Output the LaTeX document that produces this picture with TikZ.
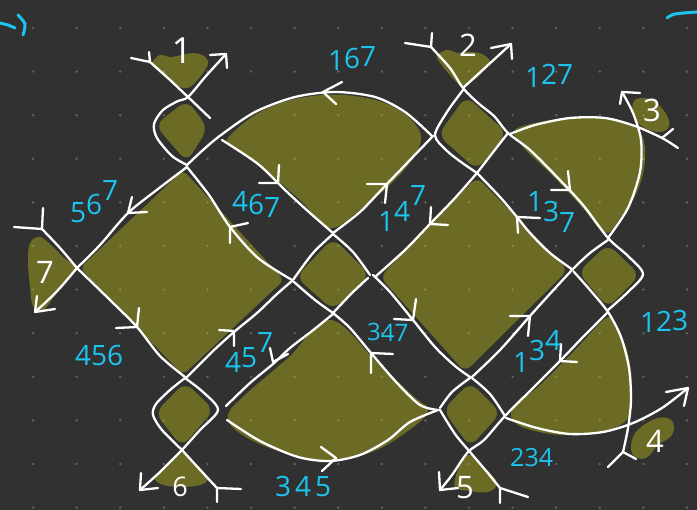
\documentclass[tikz,border=0pt]{standalone}
\usepackage{fontspec}
\setmainfont{Open Sans}
\definecolor{board}{RGB}{49,49,49}
\definecolor{dotgray}{RGB}{96,96,96}
\definecolor{olivepaint}{RGB}{203,203,22}
\definecolor{inkcyan}{RGB}{28,196,240}

\tikzset{
  ln/.style={draw=white, line width=2.3pt, line cap=round, line join=round},
  blob/.style={fill=olivepaint, fill opacity=0.38},
  lbl/.style={text=inkcyan, font=\fontsize{28}{28}\selectfont, inner sep=0pt, anchor=base west},
  tag/.style={text=white, font=\fontsize{31}{31}\selectfont, inner sep=0pt}
}
% arrow mark: tip, barb, barb
\newcommand\barb[3]{\draw[ln] (#2) -- (#1) -- (#3);}

\begin{document}
\begin{tikzpicture}[x=1pt, y=-1pt]

% -------- board --------
\fill[board] (0,0) rectangle (697,510);
\useasboundingbox (0,0) rectangle (697,510);
\foreach \i in {0,...,15}
  \foreach \j in {0,...,11}
    \fill[dotgray] ({33+43.6*\i},{28+43.6*\j}) circle (1.4);

% -------- painted regions --------
\fill[blob] plot[smooth cycle, tension=0.6] coordinates {(152,63) (160,55) (170,57) (182,55) (193,53) (204,56) (208,64) (200,77) (190,87) (180,87) (167,78) (156,69)};
\fill[blob, rounded corners=10pt] (187,100) -- (208,128) -- (187,162) -- (155,125) -- cycle;
\fill[blob, rounded corners=6pt] (80,268) -- (183,170) -- (284,280) -- (183,375) -- cycle;
\fill[blob] plot[smooth cycle, tension=0.6] coordinates {(228,138) (260,112) (300,98) (345,95) (390,105) (418,128) (418,150) (395,180) (362,208) (330,228) (300,200) (265,170) (235,148)};
\fill[blob, rounded corners=10pt] (333,238) -- (370,275) -- (333,310) -- (296,277) -- cycle;
\fill[blob, rounded corners=8pt] (477,177) -- (568,270) -- (465,372) -- (380,277) -- cycle;
\fill[blob] plot[smooth cycle, tension=0.6] coordinates {(330,320) (375,360) (412,395) (428,410) (412,428) (372,452) (325,460) (275,450) (238,432) (228,415) (245,395) (288,358)};
\fill[blob, rounded corners=10pt] (466,96) -- (507,133) -- (477,170) -- (438,135) -- cycle;
\fill[blob] plot[smooth cycle, tension=0.6] coordinates {(437,56) (447,50) (458,53) (470,52) (482,54) (490,62) (482,73) (470,83) (462,87) (450,75) (441,64)};
\fill[blob] plot[smooth cycle, tension=0.6] coordinates {(515,130) (545,121) (580,117) (615,120) (640,132) (645,160) (637,192) (620,218) (605,233) (582,207) (552,175) (522,146)};
\fill[blob] plot[smooth cycle, tension=0.7] coordinates {(633,103) (642,98) (655,102) (666,114) (669,126) (660,132) (645,128) (635,118)};
\fill[blob, rounded corners=10pt] (608,244) -- (640,275) -- (608,308) -- (578,272) -- cycle;
\fill[blob] plot[smooth cycle, tension=0.6] coordinates {(606,318) (575,350) (540,385) (512,410) (520,426) (560,435) (603,431) (628,418) (632,385) (627,350) (615,327)};
\fill[blob] plot[smooth cycle, tension=0.7] coordinates {(640,428) (658,418) (672,421) (672,435) (658,445) (646,458) (633,455) (632,440)};
\fill[blob, rounded corners=10pt] (470,382) -- (501,413) -- (470,447) -- (443,410) -- cycle;
\fill[blob] plot[smooth cycle, tension=0.6] coordinates {(468,455) (485,468) (497,483) (488,492) (470,491) (455,487) (458,470)};
\fill[blob, rounded corners=10pt] (185,382) -- (214,410) -- (182,447) -- (155,413) -- cycle;
\fill[blob] plot[smooth cycle, tension=0.6] coordinates {(182,453) (198,466) (208,479) (196,486) (168,486) (155,479) (166,466)};
\fill[blob] plot[smooth cycle, tension=0.6] coordinates {(30,243) (40,237) (52,246) (64,258) (76,268) (64,282) (53,298) (43,310) (33,306) (30,287) (28,262)};

% -------- strands, left column --------
\draw[ln] plot[smooth] coordinates {(150,62) (170,80) (188,97) (210,118)};
\barb{150,62}{131,58}{149,52}
\draw[ln] plot[smooth] coordinates {(187,165) (172,156) (157,138) (154,124) (163,110) (178,101) (188,97) (206,76) (226,54)};
\barb{226,54}{210,55}{227,68}
\draw[ln] plot[smooth] coordinates {(187,165) (203,150) (221,135) (255,112) (295,97) (335,92) (375,97) (405,112) (432,136)};
\barb{323,92}{342,82}{336,104}
\draw[ln] plot[smooth] coordinates {(222,140) (258,164) (285,190) (310,213) (333,233)};
\barb{278,183}{259,183}{279,165}
\draw[ln] plot[smooth] coordinates {(77,268) (100,245) (128,213) (158,189) (187,167)};
\barb{128,213}{147,212}{132,197}
\draw[ln] plot[smooth] coordinates {(187,167) (209,195) (230,227) (258,258) (292,280)};
\barb{230,227}{248,223}{230,243}
\draw[ln] plot[smooth] coordinates {(77,268) (110,300) (137,327) (160,356) (185,377)};
\barb{137,327}{116,328}{139,308}
\draw[ln] plot[smooth] coordinates {(187,377) (213,351) (234,332) (257,313) (277,294) (292,281)};
\barb{234,331}{219,330}{234,346}
\draw[ln] plot[smooth] coordinates {(42,229) (60,248) (77,268)};
\barb{42,229}{14,227}{43,208}
\draw[ln] plot[smooth] coordinates {(77,268) (60,288) (46,302) (35,312)};
\barb{35,312}{55,309}{37,296}
\draw[ln] plot[smooth] coordinates {(185,378) (170,390) (156,404) (153,415) (162,430) (182,450)};
\draw[ln] plot[smooth] coordinates {(185,378) (203,392) (218,410) (200,430) (182,450)};
\draw[ln] plot[smooth] coordinates {(182,450) (160,472) (140,490)};
\barb{140,490}{158,488}{141,473}
\draw[ln] plot[smooth] coordinates {(182,450) (203,473) (217,488)};
\barb{217,488}{241,489}{217,502}

% -------- strands, middle --------
\draw[ln] plot[smooth] coordinates {(333,234) (313,253) (293,280)};
\draw[ln] plot[smooth] coordinates {(294,282) (315,300) (333,313)};
\draw[ln] plot[smooth] coordinates {(333,234) (353,252) (370,275)};
\draw[ln] plot[smooth] coordinates {(368,278) (351,294) (333,313)};
\draw[ln] plot[smooth] coordinates {(333,233) (360,212) (385,186) (410,160) (433,136)};
\barb{387,184}{367,184}{385,203}
\draw[ln] plot[smooth] coordinates {(226,406) (250,383) (273,364) (290,348) (312,331) (333,314)};
\barb{273,362}{270,348}{288,354}
\draw[ln] plot[smooth] coordinates {(333,313) (350,328) (371,353) (397,383) (420,405) (438,410)};
\barb{371,353}{393,354}{371,373}
\draw[ln] plot[smooth] coordinates {(438,410) (410,422) (388,440) (360,455) (330,461) (298,457) (260,441) (227,420)};
\barb{336,458}{321,447}{322,471}
\draw[ln] plot[smooth] coordinates {(373,275) (390,292) (413,320) (435,347) (455,366) (470,377)};
\barb{413,320}{394,319}{416,299}
\draw[ln] plot[smooth] coordinates {(477,173) (455,198) (430,224) (405,250) (375,277)};
\barb{430,224}{431,207}{448,225}

% -------- strands, right column --------
\draw[ln] plot[smooth] coordinates {(431,47) (450,68) (463,88) (478,103) (494,116) (508,133) (530,150) (557,177) (583,205) (608,238) (628,256) (643,274) (628,292) (608,310)};
\barb{431,47}{405,43}{432,33}
\barb{570,190}{551,190}{568,171}
\draw[ln] plot[smooth] coordinates {(463,88) (487,66) (511,44)};
\barb{511,44}{491,48}{512,59}
\draw[ln] plot[smooth] coordinates {(463,90) (447,112) (435,135) (446,150) (461,162) (477,173)};
\draw[ln] plot[smooth] coordinates {(508,133) (494,151) (477,173)};
\draw[ln] plot[smooth] coordinates {(510,134) (535,125) (570,118) (605,118) (635,126) (662,138) (678,148)};
\draw[ln] (662,138) -- (673,129);
\draw[ln] plot[smooth] coordinates {(608,238) (628,208) (640,172) (641,140) (633,113) (622,92)};
\barb{622,92}{640,93}{620,104}
\draw[ln] plot[smooth] coordinates {(477,173) (500,197) (517,217) (530,233) (550,253) (573,270)};
\barb{517,217}{540,218}{518,233}
\draw[ln] plot[smooth] coordinates {(608,240) (590,253) (573,269) (548,296) (530,316) (500,350) (472,377)};
\barb{530,316}{510,316}{528,336}
\draw[ln] plot[smooth] coordinates {(574,272) (590,290) (608,312) (621,337) (629,368) (631,400) (628,428) (623,452)};
\barb{623,452}{608,467}{636,459}
\draw[ln] plot[smooth] coordinates {(608,312) (585,335) (560,361) (537,384) (505,416) (484,440) (468,452) (452,475) (440,490)};
\barb{560,361}{561,344}{577,362}
\barb{440,490}{439,472}{458,488}
\draw[ln] plot[smooth] coordinates {(506,418) (537,428) (570,434) (603,432) (633,423) (662,408) (688,388)};
\barb{688,388}{666,392}{684,406}
\draw[ln] plot[smooth] coordinates {(470,378) (452,392) (440,408)};
\draw[ln] plot[smooth] coordinates {(472,378) (490,394) (505,416)};
\draw[ln] plot[smooth] coordinates {(440,410) (455,434) (470,452) (487,472) (500,488)};
\barb{500,488}{528,497}{500,503}

% -------- end points --------
\node[tag, font=\fontsize{36}{36}\selectfont] (p1) at (182,51) {1};
\node[tag] (p2) at (468,45) {2};
\node[tag] (p3) at (652,110) {3};
\node[tag] (p4) at (655,441) {4};
\node[tag] (p5) at (465,488) {5};
\node[tag, font=\fontsize{27}{27}\selectfont] (p6) at (180,487) {6};
\node[tag] (p7) at (45,272) {7};

% -------- region labels --------
\node[lbl] (r167) at (328,71) {1\raisebox{2pt}{6}\raisebox{4pt}{7}};
\node[lbl] (r127) at (525,88) {1\raisebox{3pt}{2}\raisebox{3pt}{7}};
\node[lbl] (r567) at (70,223) {5\raisebox{8pt}{6}\raisebox{22pt}{7}};
\node[lbl] (r467) at (232,212) {4\raisebox{-3pt}{6}\raisebox{-6pt}{7}};
\node[lbl] (r147) at (378,232) {1\raisebox{10pt}{4}\raisebox{26pt}{7}};
\node[lbl] (r137) at (527,212) {1\raisebox{-10pt}{3}\raisebox{-21pt}{7}};
\node[lbl] (r456) at (75,366) {456};
\node[lbl] (r457) at (225,373) {4\raisebox{5pt}{5}\raisebox{20pt}{7}};
\node[lbl, font=\fontsize{24}{24}\selectfont] (r347) at (367,341) {3\raisebox{-1pt}{4}\raisebox{-1pt}{7}};
\node[lbl] (r134) at (513,373) {1\raisebox{12pt}{3}\raisebox{22pt}{4}};
\node[lbl] (r123) at (640,333) {1\raisebox{1pt}{2}\raisebox{2pt}{3}};
\node[lbl] (r345) at (275,497) {3\hspace{4pt}4\hspace{4pt}5};
\node[lbl, font=\fontsize{25}{25}\selectfont] (r234) at (510,467) {234};

% -------- cut-off marks at the edges --------
\draw[inkcyan, line width=3pt, line cap=round] plot[smooth] coordinates {(0,23) (8,25) (15,28)};
\draw[inkcyan, line width=3pt, line cap=round] plot[smooth] coordinates {(18,15) (25,24) (23,35)};
\draw[inkcyan, line width=3pt, line cap=round] plot[smooth] coordinates {(667,18) (675,14) (697,12)};

\end{tikzpicture}
\end{document}
